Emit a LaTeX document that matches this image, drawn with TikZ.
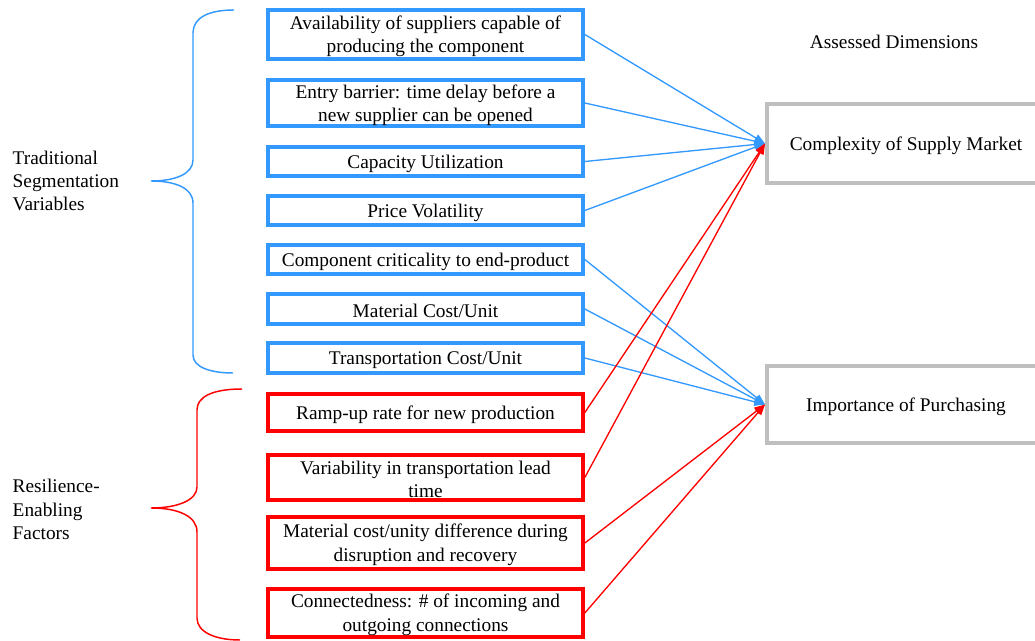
\documentclass[tikz,border=0pt]{standalone}
\usepackage{fontspec}
\setmainfont{Liberation Serif}
\usetikzlibrary{arrows.meta}
\definecolor{tradblue}{RGB}{51,153,255}
\definecolor{resred}{RGB}{255,0,0}
\definecolor{dimgray}{RGB}{191,191,191}

\begin{document}
\begin{tikzpicture}[x=0.75pt,y=-0.75pt,every node/.style={font=\fontsize{14.5}{17.4}\selectfont, align=center},varbox/.style={draw, line width=3pt, minimum width=236pt, inner sep=0pt, execute at begin node={\rule{0pt}{13pt}}},twoline/.style={execute at begin node={\rule{0pt}{30.4pt}}},tradbox/.style={varbox, draw=tradblue},resbox/.style={varbox, draw=resred},dimbox/.style={draw=dimgray, line width=3pt, minimum width=208.5pt, inner sep=0pt, execute at begin node={\rule{0pt}{13pt}}},tradlink/.style={tradblue, line width=1pt, -{Triangle[length=8pt,width=6pt]}},reslink/.style={resred, line width=1pt, -{Triangle[length=8pt,width=6pt]}},bracepath/.style={line width=1.1pt}]
\useasboundingbox (0,0) rectangle (1035,641);
\node[tradbox, twoline, minimum height=37pt] (trad1) at (425.5,34.5) {Availability of suppliers capable of\\producing the component};
\node[tradbox, twoline, minimum height=35pt] (trad2) at (425.5,103) {Entry barrier: time delay before a\\new supplier can be opened};
\node[tradbox, minimum height=22pt] (trad3) at (425.5,161.5) {Capacity Utilization};
\node[tradbox, minimum height=22pt] (trad4) at (425.5,210.5) {Price Volatility};
\node[tradbox, minimum height=22pt] (trad5) at (425.5,259.5) {Component criticality to end-product};
\node[tradbox, minimum height=22pt] (trad6) at (425.5,309) {Material Cost/Unit};
\node[tradbox, minimum height=22pt] (trad7) at (425.5,358) {Transportation Cost/Unit};
\node[resbox, minimum height=27.75pt] (res1) at (425.5,412.5) {Ramp-up rate for new production};
\node[resbox, twoline, minimum height=33.75pt] (res2) at (425.5,477.5) {Variability in transportation lead\\time};
\node[resbox, twoline, minimum height=39pt] (res3) at (425.5,543) {Material cost/unity difference during\\disruption and recovery};
\node[resbox, twoline, minimum height=36pt] (res4) at (425.5,613) {Connectedness: \# of incoming and\\outgoing connections};
\node[dimbox, minimum height=59pt] (complexity) at (906,143.5) {Complexity of Supply Market};
\node[dimbox, minimum height=58pt] (importance) at (906,404.5) {Importance of Purchasing};
\node (dimtitle) at (894,42) {Assessed Dimensions};
\node[anchor=west, align=left] (tradlabel) at (8,181) {Traditional\\Segmentation\\Variables};
\node[anchor=west, align=left] (reslabel) at (8,509.5) {Resilience-\\Enabling\\Factors};
% braces
\draw[bracepath, tradblue] (234,10) .. controls (208,10) and (193,18) .. (193,33) -- (193,160) .. controls (193,174) and (175,181) .. (151,181) .. controls (175,181) and (193,188) .. (193,203) -- (193,355) .. controls (193,367) and (210,373) .. (233,373);
\draw[bracepath, resred] (242,389) .. controls (212,389) and (197,397) .. (197,410) -- (197,487) .. controls (197,500) and (178,508) .. (151,508) .. controls (178,508) and (197,516) .. (197,532) -- (197,618) .. controls (197,632) and (215,640) .. (240,640);
% links
\draw[tradlink] (trad1.east) -- (complexity.west);
\draw[tradlink] (trad2.east) -- (complexity.west);
\draw[tradlink] (trad3.east) -- (complexity.west);
\draw[tradlink] (trad4.east) -- (complexity.west);
\draw[tradlink] (trad5.east) -- (importance.west);
\draw[tradlink] (trad6.east) -- (importance.west);
\draw[tradlink] (trad7.east) -- (importance.west);
\draw[reslink] (res1.east) -- (complexity.west);
\draw[reslink] (res2.east) -- (complexity.west);
\draw[reslink] (res3.east) -- (importance.west);
\draw[reslink] (res4.east) -- (importance.west);
\end{tikzpicture}
\end{document}
